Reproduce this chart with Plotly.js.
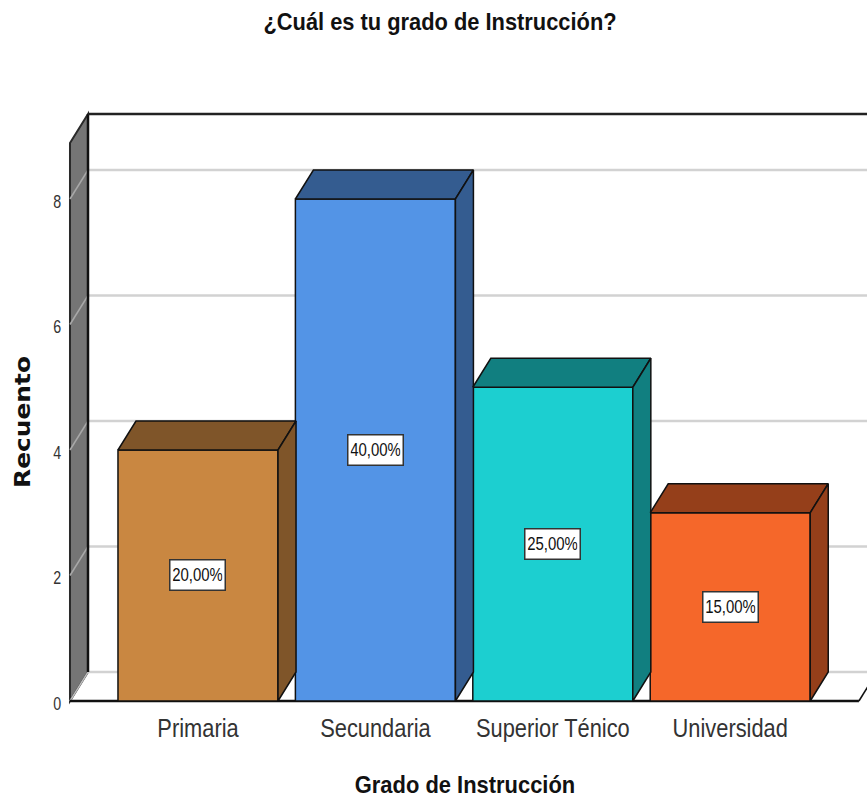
<!DOCTYPE html>
<html><head><meta charset="utf-8">
<script src="https://cdn.plot.ly/plotly-3.0.1.min.js"></script>
<style>html,body{margin:0;padding:0;background:#fff}#c{width:867px;height:801px}</style>
</head><body><div id="c"></div>
<script>
const categories = ["Primaria","Secundaria","Superior Ténico","Universidad"];
const counts = [4,8,5,3];
const percents = ["20,00%","40,00%","25,00%","15,00%"];
const frontColors = ["#C98741","#5394E6","#1CCFD0","#F5672A"];
const sideColors = ["#7F5529","#345C90","#117F80","#953F1A"];
const yTicks = [0,2,4,6,8];
const barWidth = 0.902, dx = 0.1015, dy = 0.462;
const xMin = -0.744, xMax = 3.771, yMin = -0.064, yMax = 9.434;
const wallLeft = -0.7215, wallTop = 9.355, xFloorEnd = 3.7255;
const sans = '"Liberation Sans",Arial,sans-serif';
const ink = "#111111", gridCol = "#D2D2D2";

const idx = categories.map((_,i)=>i);
const traces = [];
traces.push({type:"bar",x:idx,y:counts,width:barWidth,
  marker:{color:frontColors,line:{color:ink,width:1.5}},hoverinfo:"skip",showlegend:false});
function poly(xs,ys,col){
  traces.push({type:"scatter",mode:"lines",x:xs,y:ys,fill:"toself",fillcolor:col,
    line:{color:ink,width:1.5},hoverinfo:"skip",showlegend:false});
}
idx.forEach(i=>{
  const l=i-barWidth/2,r=i+barWidth/2,v=counts[i];
  poly([l,r,r+dx,l+dx,l],[v,v,v+dy,v+dy,v],sideColors[i]);
  poly([r,r+dx,r+dx,r,r],[0,dy,v+dy,v,0],sideColors[i]);
});

const shapes=[];
const L=(x0,y0,x1,y1,c,w)=>shapes.push({type:"line",layer:"below",xref:"x",yref:"y",x0,y0,x1,y1,line:{color:c,width:w}});
const wx0=wallLeft, wx1=wallLeft+dx;
shapes.push({type:"path",layer:"below",xref:"x",yref:"y",
  path:`M ${wx0} 0 L ${wx1} ${dy} L ${wx1} ${wallTop} L ${wx0} ${wallTop-dy} Z`,
  fillcolor:"#757575",line:{color:"#2A2A2A",width:2}});
yTicks.forEach(t=>{
  if(t>0) L(wx0,t,wx1,t+dy,"#A8A8A8",1.5);
  L(wx1,t+dy,xMax,t+dy,gridCol,2.5);
});
L(wx0,0,wx1,dy,"#BDBDBD",1.5);
L(wx1,dy,wx1,wallTop,ink,2.5);
L(wx1,wallTop,xMax,wallTop,"#222222",2.5);
L(wx0,0,xFloorEnd,0,ink,2.5);
L(xFloorEnd,0,xFloorEnd+dx,dy,ink,1.5);

const annotations=idx.map(i=>({x:i,y:counts[i]/2,xref:"x",yref:"y",text:percents[i],showarrow:false,
  bgcolor:"#FFFFFF",bordercolor:"#333333",borderwidth:1.5,borderpad:2,width:50,height:25,
  font:{family:sans,size:18,color:"#111111"}}));

const layout={
  width:867,height:801,autosize:false,
  margin:{l:66,r:0,t:109,b:96,pad:0},
  paper_bgcolor:"#FFFFFF",plot_bgcolor:"#FFFFFF",
  showlegend:false,
  title:{text:"¿Cuál es tu grado de Instrucción?",x:440/867,xanchor:"center",xref:"container",y:1-22/801,yanchor:"middle",
    font:{family:sans,size:24,weight:"bold",color:"#111111"}},
  xaxis:{range:[xMin,xMax],tickmode:"array",tickvals:idx,ticktext:categories,showgrid:false,zeroline:false,showline:false,
    ticks:"",tickfont:{family:sans,size:26,color:"#333333"},
    title:{text:"Grado de Instrucción",standoff:36,font:{family:sans,size:24,weight:"bold",color:"#111111"}}},
  yaxis:{range:[yMin,yMax],tickmode:"array",tickvals:yTicks,ticktext:yTicks.map(String),showgrid:false,zeroline:false,showline:false,
    ticks:"outside",ticklen:4,tickcolor:"rgba(0,0,0,0)",tickfont:{family:sans,size:19,color:"#333333"},
    title:{text:"Recuento",standoff:22,font:{family:'"DejaVu Sans",sans-serif',size:22,weight:"bold",color:"#111111"}}},
  shapes,annotations
};
function squeeze(sel,f){
  document.querySelectorAll(sel).forEach(t=>{
    t.setAttribute("lengthAdjust","spacingAndGlyphs");
    t.setAttribute("textLength",t.getComputedTextLength()*f);
  });
}
function shift(sel,sx,sy){
  document.querySelectorAll(sel).forEach(t=>{
    t.setAttribute("transform",`translate(${sx},${sy}) ${t.getAttribute("transform")||""}`);
  });
}
Plotly.newPlot("c",traces,layout,{displayModeBar:false,staticPlot:true}).then(()=>{
  squeeze(".gtitle",0.91);
  squeeze(".xtick text",0.84);
  squeeze(".ytick text",0.75);
  squeeze(".xtitle",0.913);
  squeeze(".ytitle",1.13);
  squeeze(".annotation-text",0.83);
  shift(".xtitle",-1.5,3);
  shift(".ytitle",10,15);
  shift(".ytick text",4,2);
  shift(".xtick text",0,5);
});
</script></body></html>
